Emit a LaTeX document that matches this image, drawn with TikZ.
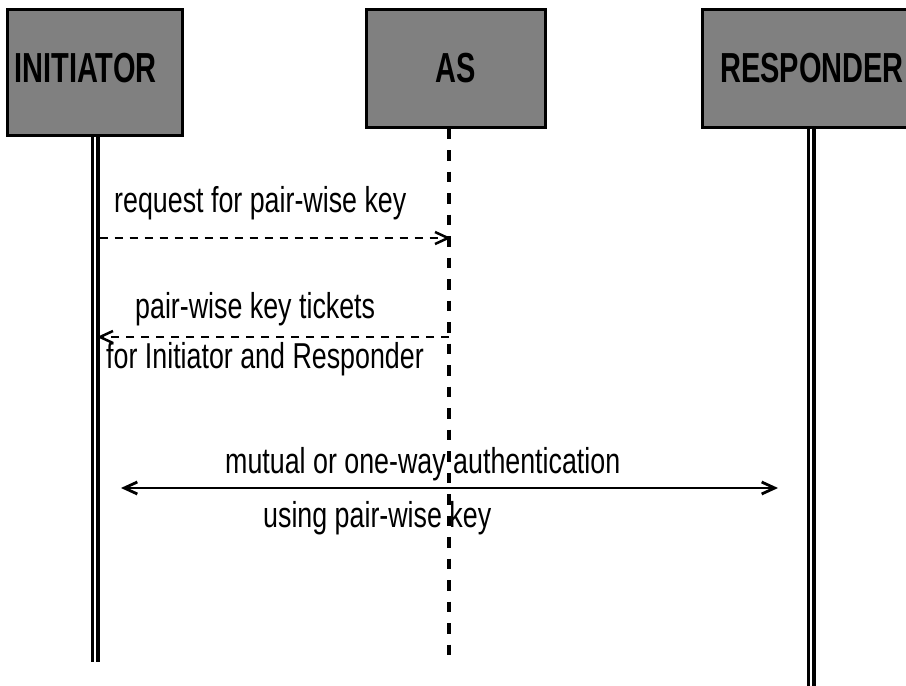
\documentclass[tikz,border=0pt]{standalone}
\usepackage{fontspec}
\setmainfont{Liberation Sans}
\newfontfamily\labelfont[FakeStretch=0.745]{Liberation Sans}
\newfontfamily\headfont[FakeStretch=0.69]{Liberation Sans}
\usetikzlibrary{arrows.meta}
\definecolor{boxgray}{RGB}{128,128,128}
\begin{document}
\begin{tikzpicture}[x=1pt,y=-1pt,
  lifebox/.style={draw=black, line width=3pt, fill=boxgray, inner sep=0pt,
    font=\headfont\bfseries\fontsize{42}{50}\selectfont},
  msglabel/.style={font=\labelfont\fontsize{36}{42}\selectfont, inner sep=0pt, anchor=base west},
  lifeline/.style={line width=3.5pt, double=white, double distance=2pt},
  asline/.style={line width=3.3pt, dash pattern=on 10.5pt off 11pt},
  barb/.tip={Straight Barb[length=13pt,width=12pt]},
  dmsg/.style={line width=2.5pt, dash pattern=on 8pt off 7pt, -barb},
  smsg/.style={line width=2.8pt, barb-barb}
]
\useasboundingbox (0,0) rectangle (906,686);
\clip (0,0) rectangle (906,686);

% participant boxes
\node[lifebox, minimum width=175pt, minimum height=126pt] (init) at (94.5,72)
  {\makebox[0pt]{\raisebox{8pt}{INITIATOR}\hspace{18pt}}};
\node[lifebox, minimum width=179pt, minimum height=118pt] (as) at (455.5,68) {AS};
\node[lifebox, minimum width=220pt, minimum height=118pt] (resp) at (812,68) {RESPONDER};

% lifelines
\coordinate (iEnd) at (95,662);
\coordinate (aEnd) at (449,660);
\coordinate (rEnd) at (811,690);
\draw[lifeline] (init.south -| iEnd) -- (iEnd);
\draw[asline] (as.south -| aEnd) -- (aEnd);
\draw[lifeline] (resp.south -| rEnd) -- (rEnd);

% messages
\coordinate (m1s) at (99.5,238);
\coordinate (m1e) at (451,238);
\coordinate (m2s) at (449,337);
\coordinate (m2e) at (97,337);
\coordinate (m3s) at (121,488);
\coordinate (m3e) at (778,488);
\draw[dmsg] (m1s) -- (m1e);
\draw[dmsg] (m2s) -- (m2e);
\draw[smsg] (m3s) -- (m3e);

% labels
\node[msglabel] (l1) at (114,212) {request for pair-wise key};
\node[msglabel] (l2) at (135,318) {pair-wise key tickets};
\node[msglabel] (l3) at (106,368) {for Initiator and Responder};
\node[msglabel] (l4) at (225,473) {mutual or one-way authentication};
\node[msglabel] (l5) at (263,527) {using pair-wise key};
\end{tikzpicture}
\end{document}
